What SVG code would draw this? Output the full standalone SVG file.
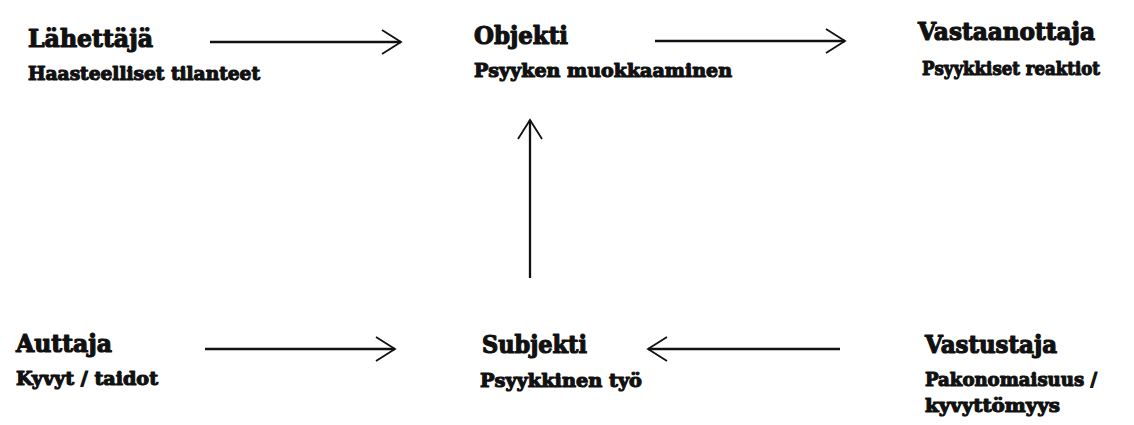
<svg xmlns="http://www.w3.org/2000/svg" width="1134" height="425" viewBox="0 0 1134 425">
  <defs>
    <style>
      .title { font-family: "DejaVu Serif", "Liberation Serif", serif; font-weight: bold; font-size: 24px; fill: #111; stroke: #111; stroke-width: 1.2; stroke-linejoin: round; }
      .sub { font-family: "DejaVu Serif", "Liberation Serif", serif; font-weight: bold; font-size: 18px; fill: #111; stroke: #111; stroke-width: 1.1; stroke-linejoin: round; }
      .edge { stroke: #111; stroke-width: 2.3; fill: none; marker-end: url(#chevron); }
    </style>
    <marker id="chevron" markerUnits="userSpaceOnUse" viewBox="-22 -14 24 28" refX="0" refY="0" markerWidth="24" markerHeight="28" orient="auto" overflow="visible">
      <path d="M -19 -12 L 0 0 L -19 12" fill="none" stroke="#111" stroke-width="1.8"/>
    </marker>
  </defs>
  <rect width="1134" height="425" fill="#fff"/>

  <g id="lahettaja">
    <text class="title" x="28" y="47" textLength="125" lengthAdjust="spacingAndGlyphs">Lähettäjä</text>
    <text class="sub" x="28" y="80" textLength="232" lengthAdjust="spacingAndGlyphs">Haasteelliset tilanteet</text>
  </g>
  <g id="objekti">
    <text class="title" x="474" y="44" textLength="94" lengthAdjust="spacingAndGlyphs">Objekti</text>
    <text class="sub" x="474" y="77" textLength="258" lengthAdjust="spacingAndGlyphs">Psyyken muokkaaminen</text>
  </g>
  <g id="vastaanottaja">
    <text class="title" x="918" y="40" textLength="177" lengthAdjust="spacingAndGlyphs">Vastaanottaja</text>
    <text class="sub" x="922" y="75" textLength="178" lengthAdjust="spacingAndGlyphs">Psyykkiset reaktiot</text>
  </g>
  <g id="auttaja">
    <text class="title" x="16" y="352" textLength="96" lengthAdjust="spacingAndGlyphs">Auttaja</text>
    <text class="sub" x="16" y="385" textLength="142" lengthAdjust="spacingAndGlyphs">Kyvyt / taidot</text>
  </g>
  <g id="subjekti">
    <text class="title" x="482" y="353" textLength="105" lengthAdjust="spacingAndGlyphs">Subjekti</text>
    <text class="sub" x="480" y="387" textLength="162" lengthAdjust="spacingAndGlyphs">Psyykkinen työ</text>
  </g>
  <g id="vastustaja">
    <text class="title" x="925" y="353" textLength="132" lengthAdjust="spacingAndGlyphs">Vastustaja</text>
    <text class="sub" x="925" y="386" textLength="172" lengthAdjust="spacingAndGlyphs">Pakonomaisuus /</text>
    <text class="sub" x="925" y="412" textLength="135" lengthAdjust="spacingAndGlyphs">kyvyttömyys</text>
  </g>

  <g id="connectors">
    <line class="edge" x1="210" y1="42" x2="401" y2="42"/>
    <line class="edge" x1="655" y1="41" x2="845" y2="41"/>
    <line class="edge" x1="205" y1="349" x2="395" y2="349"/>
    <line class="edge" x1="840" y1="349" x2="648" y2="349"/>
    <line class="edge" x1="530" y1="278" x2="530" y2="120"/>
  </g>
</svg>
